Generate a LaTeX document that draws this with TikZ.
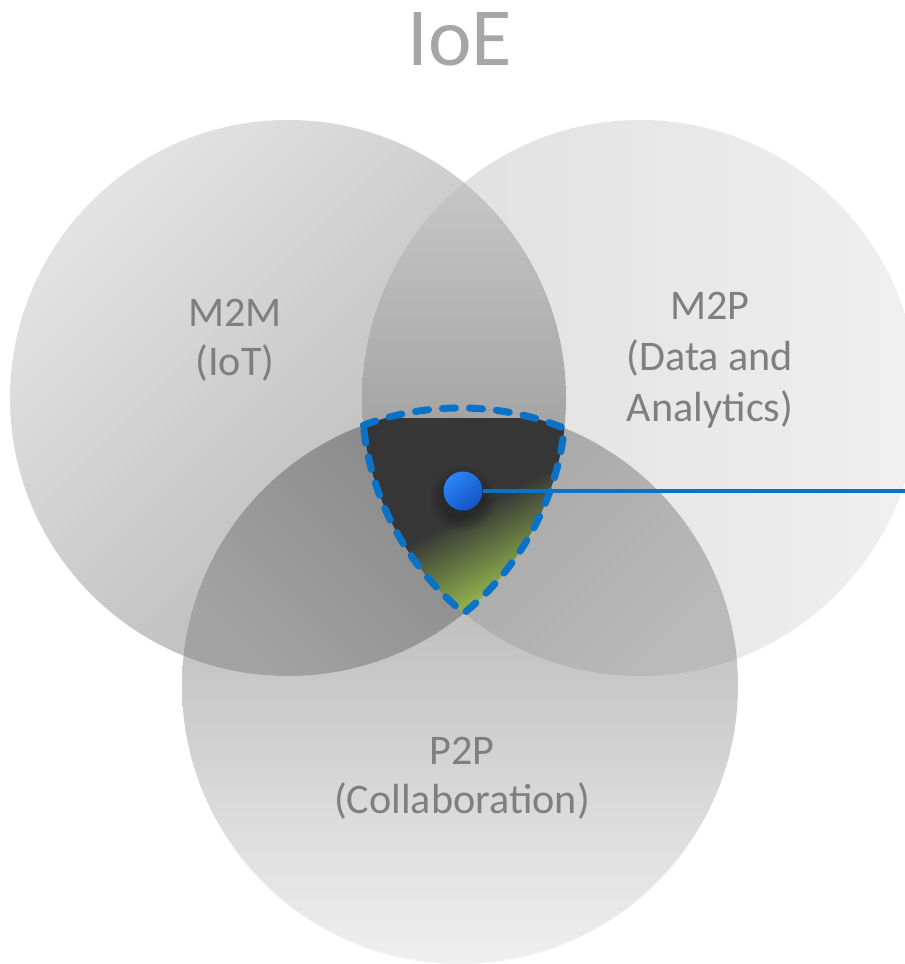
\documentclass[tikz,border=0pt]{standalone}
\usepackage{fontspec}
\setmainfont{Carlito}
\definecolor{txtgray}{HTML}{7F7F7F}
\definecolor{titlegray}{HTML}{A6A6A6}
\definecolor{lineblue}{HTML}{0B72C6}
\definecolor{dotlight}{HTML}{2C84F6}
\definecolor{dotdark}{HTML}{1254C4}
\definecolor{cdark}{HTML}{363636}
\definecolor{cgreen}{HTML}{A4CE52}
\pgfdeclareverticalshading{ctrshade}{100bp}{color(0bp)=(cgreen); color(27bp)=(cgreen); color(51bp)=(cdark); color(100bp)=(cdark)}
\tikzset{
  lbl/.style={text=txtgray, font=\fontsize{24}{28}\selectfont, align=center, inner sep=0pt},
  border/.style={draw=lineblue, line width=4pt, line cap=round, dash pattern=on 7.4pt off 8pt},
}
\begin{document}
\begin{tikzpicture}[x=0.02cm,y=0.02cm]
\useasboundingbox (0,0) rectangle (905,964);
\coordinate (O1) at (288,566);
\coordinate (O2) at (640,566);
\coordinate (O3) at (460,278);
\def\R{278}
% single circles
\shade[top color=black!11, bottom color=black!30, shading angle=45] (O1) circle[radius=\R];
\shade[left color=black!13, right color=black!6] (O2) circle[radius=\R];
\shade[top color=black!36, bottom color=black!6] (O3) circle[radius=\R];
% lens M2M & M2P
\begin{scope}
  \clip (O1) circle[radius=\R];
  \clip (O2) circle[radius=\R];
  \shade[top color=black!22, bottom color=black!46] (340,340) rectangle (590,790);
\end{scope}
% M2M & P2P
\begin{scope}
  \clip (O1) circle[radius=\R];
  \clip (O3) circle[radius=\R];
  \shade[top color=black!49, bottom color=black!36, shading angle=-45] (170,280) rectangle (580,560);
\end{scope}
% M2P & P2P
\begin{scope}
  \clip (O2) circle[radius=\R];
  \clip (O3) circle[radius=\R];
  \shade[top color=black!36, bottom color=black!27, shading angle=45] (350,280) rectangle (750,560);
\end{scope}
% centre
\coordinate (B) at (363.3,538.7);
\begin{scope}
  \clip (B) arc[start angle=110.35, end angle=67.94, radius=\R]
            arc[start angle=-6.26, end angle=-50.72, radius=\R]
            arc[start angle=230.72, end angle=185.63, radius=\R] -- cycle;
  \shade[shading=ctrshade, shading angle=28] (350,345) rectangle (580,545);
  \foreach \r in {21,23,...,33} {
    \fill[black, opacity=0.035] (463,465) circle[radius=\r];
  }
\end{scope}
\path[border] (B) arc[start angle=110.35, end angle=67.94, radius=\R]
            arc[start angle=-6.26, end angle=-50.72, radius=\R]
            arc[start angle=230.72, end angle=185.63, radius=\R] -- cycle;
% labels
\node[text=titlegray, font=\fontsize{47}{50}\selectfont, inner sep=0pt] (title) at (460,925) {IoE};
\node[lbl] (m2m) at (235,624) {M2M\\(IoT)};
\node[lbl, font=\fontsize{24}{29}\selectfont] (m2p) at (710,604) {M2P\\(Data and\\Analytics)};
\node[lbl] (p2p) at (462,186) {P2P\\(Collaboration)};
% dot and line
\coordinate (lineend) at (905,473);
\node[circle, minimum size=0.78cm, inner sep=0pt] (dot) at (463,473) {};
\draw[lineblue, line width=2.2pt] (dot) -- (lineend);
\shade[top color=dotlight, bottom color=dotdark, shading angle=40] (dot.center) circle[radius=19.5];
\end{tikzpicture}
\end{document}
